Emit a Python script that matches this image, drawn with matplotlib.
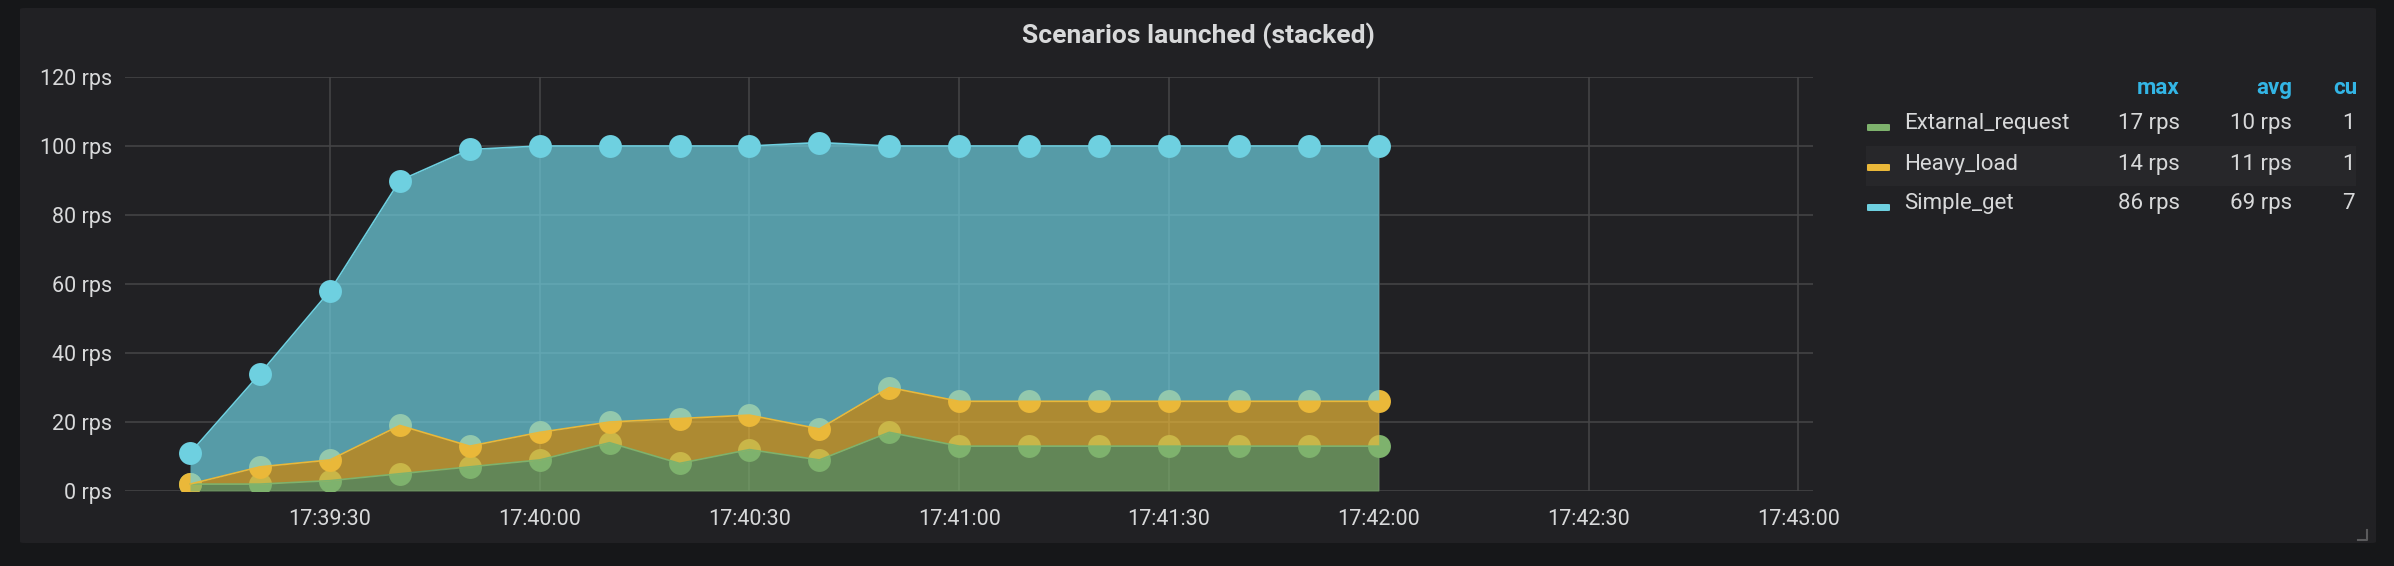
import numpy as np
import pandas as pd
import matplotlib
matplotlib.use("Agg")
import matplotlib.pyplot as plt
from matplotlib.patches import FancyBboxPatch, Rectangle
from matplotlib.lines import Line2D

# ---- data ----
times = ["17:39:10", "17:39:20", "17:39:30", "17:39:40", "17:39:50", "17:40:00",
         "17:40:10", "17:40:20", "17:40:30", "17:40:40", "17:40:50", "17:41:00",
         "17:41:10", "17:41:20", "17:41:30", "17:41:40", "17:41:50", "17:42:00"]
external_request = [2, 2, 3, 5, 7, 9, 14, 8, 12, 9, 17, 13, 13, 13, 13, 13, 13, 13]
heavy_load = [0, 5, 6, 14, 6, 8, 6, 13, 10, 9, 13, 13, 13, 13, 13, 13, 13, 13]
simple_get = [9, 27, 49, 71, 86, 83, 80, 79, 78, 83, 70, 74, 74, 74, 74, 74, 74, 74]

series_names = ["Extarnal_request", "Heavy_load", "Simple_get"]
series_colors = ["#7EB26D", "#EAB839", "#6ED0E0"]
legend_max = ["17 rps", "14 rps", "86 rps"]
legend_avg = ["10 rps", "11 rps", "69 rps"]
legend_cur = ["13 rps", "13 rps", "74 rps"]

y_ticks = [0, 20, 40, 60, 80, 100, 120]
x_ticks = ["17:39:30", "17:40:00", "17:40:30", "17:41:00", "17:41:30",
           "17:42:00", "17:42:30", "17:43:00"]
x_range = ["17:39:00.7", "17:43:02.1"]
title = "Scenarios launched (stacked)"

W, H = 2394, 566
BG = "#161719"
PANEL = "#212124"
TXT = "#d8d9da"
GRID = "#464648"

plt.rcParams['font.family'] = ['Roboto', 'DejaVu Sans']


def fx(x):
  return x / W


def fy(y):
  return 1 - y / H


t = pd.to_datetime(times, format="%H:%M:%S")
xt = pd.to_datetime(x_ticks, format="%H:%M:%S")
xr = pd.to_datetime(x_range, format="%H:%M:%S.%f")

fig = plt.figure(figsize=(W / 100, H / 100), dpi=100, facecolor=BG)

# panel
panel = FancyBboxPatch((fx(20), fy(543)), fx(2376 - 20), (543 - 8) / H,
                       boxstyle="round,pad=0,rounding_size=0.002",
                       transform=fig.transFigure, facecolor=PANEL,
                       edgecolor="none", zorder=-10)
fig.patches.append(panel)

ax = fig.add_axes([fx(125), fy(491), fx(1813 - 125), (491 - 77) / H])
ax.set_facecolor("none")
ax.set_zorder(1)

stack = np.vstack([external_request, heavy_load, simple_get]).astype(float)
tops = np.cumsum(stack, axis=0)
bottoms = np.vstack([np.zeros(len(times)), tops[:-1]])

# points go under the fills, so each fill tints the points of the series below
for i in range(3):
  ax.plot(t, tops[i], 'o', ms=16.5, color=series_colors[i], mec="none", zorder=2)
  ax.fill_between(t, bottoms[i], tops[i], color=series_colors[i], alpha=0.7,
                  linewidth=0, zorder=3)
  ax.plot(t, tops[i], '-', lw=1.2, color=series_colors[i], zorder=4)

ax.set_xlim(xr[0], xr[1])
ax.set_ylim(0, 120)
ax.set_yticks(y_ticks)
ax.set_yticklabels([f"{v} rps" for v in y_ticks])
ax.set_xticks(xt)
ax.set_xticklabels(x_ticks)
ax.tick_params(length=0, labelsize=15.5, colors=TXT)
ax.tick_params(axis='y', pad=9)
ax.tick_params(axis='x', pad=13)
ax.grid(True, color=GRID, lw=1.1, zorder=1)
ax.set_axisbelow(True)
for s in ax.spines.values():
  s.set_visible(False)

# title
fig.text(fx(1198), fy(36), title, ha="center", va="center", fontsize=19,
         color=TXT, weight="bold")

# legend table
row_y = [124, 164, 204]
fig.patches.append(Rectangle((fx(1866), fy(186)), fx(2356 - 1866), 40 / H,
                             transform=fig.transFigure, facecolor="#27272a",
                             edgecolor="none", zorder=-5))
clip = Rectangle((fx(1860), fy(230)), fx(2356 - 1860), 180 / H,
                 transform=fig.transFigure, visible=False)
fig.patches.append(clip)
hdr = "#33b5e5"
fig.text(fx(2180), fy(88), "max", ha="right", va="center", fontsize=16,
         color=hdr, weight="bold")
fig.text(fx(2292), fy(88), "avg", ha="right", va="center", fontsize=16,
         color=hdr, weight="bold")
h = fig.text(fx(2333), fy(88), "current", ha="left", va="center", fontsize=16,
             color=hdr, weight="bold")
h.set_clip_path(clip)
for i in range(3):
  y = row_y[i]
  fig.patches.append(FancyBboxPatch((fx(1867), fy(y + 7)), fx(23), 7 / H,
                                    boxstyle="round,pad=0,rounding_size=0.001",
                                    transform=fig.transFigure,
                                    facecolor=series_colors[i], edgecolor="none",
                                    zorder=2))
  fig.text(fx(1904), fy(y), series_names[i], ha="left", va="center",
           fontsize=16, color=TXT)
  fig.text(fx(2180), fy(y), legend_max[i], ha="right", va="center",
           fontsize=16, color=TXT)
  fig.text(fx(2292), fy(y), legend_avg[i], ha="right", va="center",
           fontsize=16, color=TXT)
  c = fig.text(fx(2343), fy(y), legend_cur[i], ha="left", va="center",
               fontsize=16, color=TXT)
  c.set_clip_path(clip)

# resize handle
fig.lines.append(Line2D([fx(2358), fx(2367), fx(2367)], [fy(540), fy(540), fy(530)],
                        transform=fig.transFigure, color="#5a5a5c", lw=1.5))

fig.savefig("out.png", dpi=100, facecolor=BG)
